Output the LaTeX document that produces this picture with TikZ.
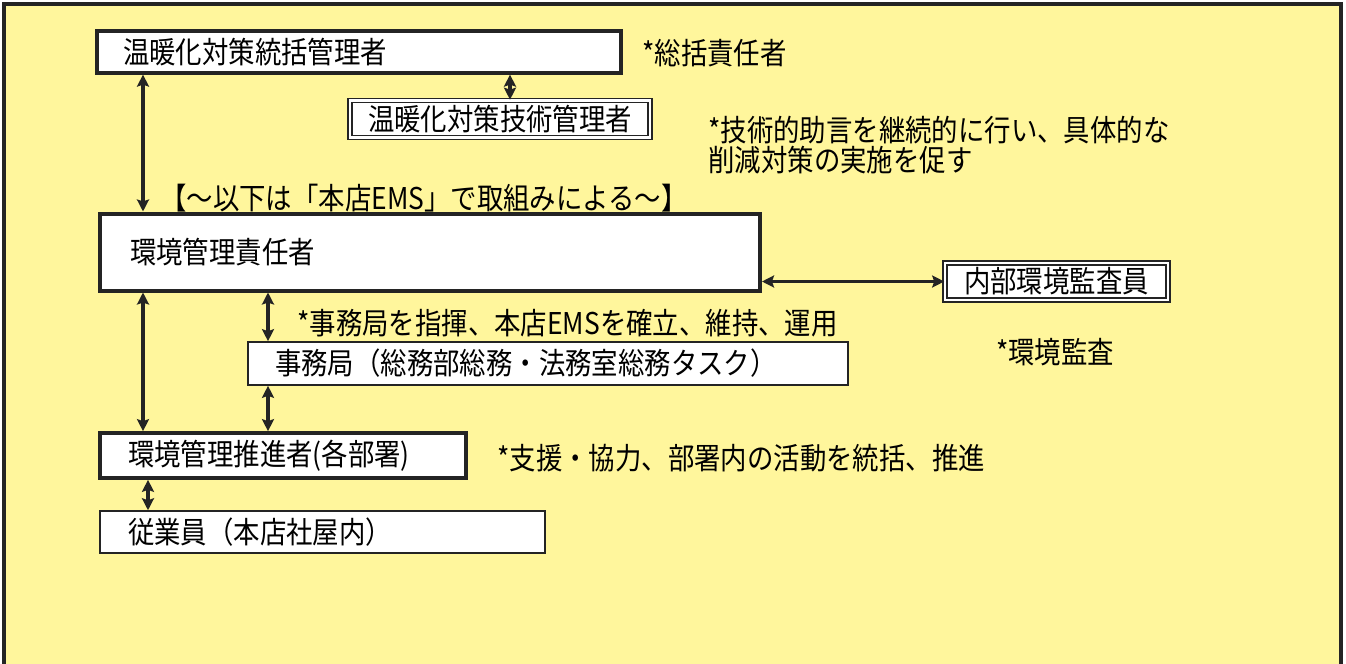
\documentclass[tikz,border=0pt]{standalone}
\usepackage{fontspec}
\setmainfont[FakeStretch=0.88]{Noto Sans CJK JP}
\usetikzlibrary{positioning, arrows.meta, calc}

\definecolor{panelyellow}{RGB}{255,246,156}
\definecolor{inkgray}{RGB}{36,36,36}

\tikzset{
  thickbox/.style={draw=inkgray, line width=2pt, fill=white, align=left},
  thinbox/.style={draw=inkgray, line width=0.8pt, fill=white, align=left},
  dblbox/.style={draw=inkgray, line width=0.8pt, double=white, double distance=1.3pt, fill=white, align=center, inner sep=1pt},
  link/.style={inkgray, line width=1.6pt, {Stealth[length=6pt,width=6pt,inset=1pt]}-{Stealth[length=6pt,width=6pt,inset=1pt]}},
  note/.style={anchor=west, inner sep=0pt, align=left}
}

\begin{document}
\begin{tikzpicture}[x=0.5pt, y=-0.5pt, font=\fontsize{15pt}{13.5pt}\selectfont]
  \useasboundingbox (0,0) rectangle (1346,664);
  \clip (0,0) rectangle (1346,664);
  \fill[white] (0,0) rectangle (1346,664);

  % Panel
  \draw[inkgray, line width=2.2pt, fill=panelyellow] (4,4) rectangle (1341,720);

  % Upper part
  \node (tokatsu) [thickbox, minimum width=262pt, minimum height=18pt, inner xsep=13pt, text width=236pt] at (359,52) {温暖化対策統括管理者};
  \node (tokatsuNote) [note] at (642,53) {*総括責任者};

  \node (gijutsu) [dblbox, minimum width=150pt, minimum height=18.5pt] at (500,119) {温暖化対策技術管理者};
  \node (gijutsuNote) [note] at (708,145) {*技術的助言を継続的に行い、具体的な\\削減対策の実施を促す};

  \node (ems) [note] at (160,198) {【～以下は「本店EMS」で取組みによる～】};

  % EMS part
  \node (sekinin) [thickbox, minimum width=330pt, minimum height=38.5pt, inner xsep=15pt, text width=300pt] at (430,252) {環境管理責任者};

  \node (kansa) [dblbox, minimum width=111.5pt, minimum height=18.5pt] at (1056.5,281.5) {内部環境監査員};
  \node (kansaNote) [inner sep=0pt] at (1055,352) {*環境監査};

  \node (jimuNote) [note] at (297,323) {*事務局を指揮、本店EMSを確立、維持、運用};
  \node (jimu) [thinbox, minimum width=300pt, minimum height=21.5pt, inner xsep=13.5pt, text width=273pt] at (548,363.5) {事務局（総務部総務・法務室総務タスク）};

  \node (suishin) [thickbox, minimum width=183pt, minimum height=18.5pt, inner xsep=14pt, text width=155pt] at (283,455.5) {環境管理推進者(各部署)};
  \node (suishinNote) [note] at (497,458) {*支援・協力、部署内の活動を統括、推進};

  \node (jugyo) [thinbox, minimum width=222.5pt, minimum height=20pt, inner xsep=14pt, text width=194.5pt] at (322.5,532) {従業員（本店社屋内）};

  % Connectors
  \coordinate (lx) at (143,0);
  \coordinate (mx) at (268,0);
  \coordinate (sx) at (148,0);
  \coordinate (tx) at (510,0);

  \draw[link] (tokatsu.south -| tx) -- (gijutsu.north -| tx);
  \draw[link] (tokatsu.south -| lx) -- (sekinin.north -| lx);
  \draw[link] (kansa.west -| sekinin.east) -- (kansa.west);
  \draw[link] (sekinin.south -| mx) -- (jimu.north -| mx);
  \draw[link] (jimu.south -| mx) -- (suishin.north -| mx);
  \draw[link] (sekinin.south -| lx) -- (suishin.north -| lx);
  \draw[link] (suishin.south -| sx) -- (jugyo.north -| sx);
\end{tikzpicture}
\end{document}
